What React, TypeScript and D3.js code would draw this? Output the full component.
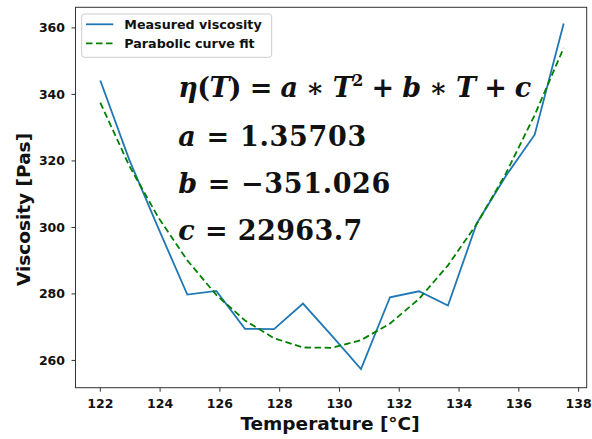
import React from "react";
import * as d3 from "d3";

const temperature = [122, 122.97, 123.94, 124.91, 125.88, 126.84, 127.81, 128.78, 129.75, 130.72, 131.69, 132.66, 133.63, 134.59, 135.56, 136.53, 137.5];
const measured = [344.2, 320.3, 299.8, 279.8, 280.9, 269.5, 269.4, 277.1, 267.4, 257.4, 279.0, 280.8, 276.5, 301.2, 315.4, 327.9, 361.3];
const fitted = [337.5, 318.5, 303.0, 290.1, 279.7, 272.0, 266.7, 263.9, 263.8, 266.1, 271.1, 278.5, 288.6, 301.0, 316.1, 333.8, 354.0];
const xTicks = [122, 124, 126, 128, 130, 132, 134, 136, 138];
const yTicks = [260, 280, 300, 320, 340, 360];
const legendLabels = ["Measured viscosity", "Parabolic curve fit"];
const xLabel = "Temperature [°C]";
const yLabel = "Viscosity [Pas]";

const W = 592, H = 439;
const L = 75.5, R = 586.7, T = 7.3, B = 387.7;

export default function App() {
  const x = d3.scaleLinear().domain([121.17, 138.27]).range([L, R]);
  const y = d3.scaleLinear().domain([251.8, 366.2]).range([B, T]);
  const pts = (vals: number[]) => temperature.map((t, i) => [t, vals[i]] as [number, number]);
  const line = d3.line<[number, number]>().x(d => x(d[0])).y(d => y(d[1]));
  const sans = "'DejaVu Sans', sans-serif";
  const serif = "'DejaVu Serif', serif";
  const eqFs = 27;
  const it = { fontStyle: "italic" as const };
  return (
    <svg width={W} height={H} style={{ position: "absolute", left: 0, top: 0, background: "#fff" }}>
      <rect x={0} y={0} width={W} height={H} fill="#fff" />
      <path d={line(pts(measured)) || ""} fill="none" stroke="#1f77b4" strokeWidth={1.8} />
      <path d={line(pts(fitted)) || ""} fill="none" stroke="#008000" strokeWidth={1.8} strokeDasharray="6.5,3.5" />
      <rect x={L} y={T} width={R - L} height={B - T} fill="none" stroke="#333" strokeWidth={1} />
      {xTicks.map(t => (
        <g key={t}>
          <line x1={x(t)} x2={x(t)} y1={B} y2={B + 4} stroke="#333" />
          <text x={x(t)} y={408} textAnchor="middle" fontFamily={sans} fontWeight="bold" fontSize={12.5} fill="#111">{t}</text>
        </g>
      ))}
      {yTicks.map(t => (
        <g key={t}>
          <line x1={L - 4} x2={L} y1={y(t)} y2={y(t)} stroke="#333" />
          <text x={65} y={y(t) + 4.5} textAnchor="end" fontFamily={sans} fontWeight="bold" fontSize={12.5} fill="#111">{t}</text>
        </g>
      ))}
      <text x={330} y={430} textAnchor="middle" fontFamily={sans} fontWeight="bold" fontSize={18.5} fill="#111">{xLabel}</text>
      <text transform={`translate(30,${(T + B) / 2 + 12}) rotate(-90)`} textAnchor="middle" fontFamily={sans} fontWeight="bold" fontSize={18.5} fill="#111">{yLabel}</text>
      <rect x={81.7} y={14} width={190} height={43.3} rx={3} fill="#fff" fillOpacity={0.8} stroke="#ccc" />
      <line x1={86} x2={113.3} y1={24.3} y2={24.3} stroke="#1f77b4" strokeWidth={1.8} />
      <line x1={86} x2={113.3} y1={43.3} y2={43.3} stroke="#008000" strokeWidth={1.8} strokeDasharray="6.5,3.5" />
      <text x={124.3} y={28.7} fontFamily={sans} fontWeight="bold" fontSize={12.7} fill="#111">{legendLabels[0]}</text>
      <text x={124.3} y={47.7} fontFamily={sans} fontWeight="bold" fontSize={12.7} fill="#111">{legendLabels[1]}</text>
      <g fontFamily={serif} fontWeight="bold" fontSize={eqFs} fill="#111">
        <text x={178.3} y={97} textLength={353} lengthAdjust="spacing">
          <tspan {...it}>η</tspan><tspan>(</tspan><tspan {...it}>T</tspan><tspan>) = </tspan><tspan {...it}>a</tspan><tspan> ∗ </tspan><tspan {...it}>T</tspan><tspan fontSize={16} dy={-11}>2</tspan><tspan dy={11}> + </tspan><tspan {...it}>b</tspan><tspan> ∗ </tspan><tspan {...it}>T</tspan><tspan> + </tspan><tspan {...it}>c</tspan>
        </text>
        <text x={178.3} y={146} textLength={188} lengthAdjust="spacing">
          <tspan {...it}>a</tspan><tspan> = 1.35703</tspan>
        </text>
        <text x={178.3} y={192.7} textLength={212} lengthAdjust="spacing">
          <tspan {...it}>b</tspan><tspan> = −351.026</tspan>
        </text>
        <text x={178.3} y={239.5} textLength={184} lengthAdjust="spacing">
          <tspan {...it}>c</tspan><tspan> = 22963.7</tspan>
        </text>
      </g>
    </svg>
  );
}
